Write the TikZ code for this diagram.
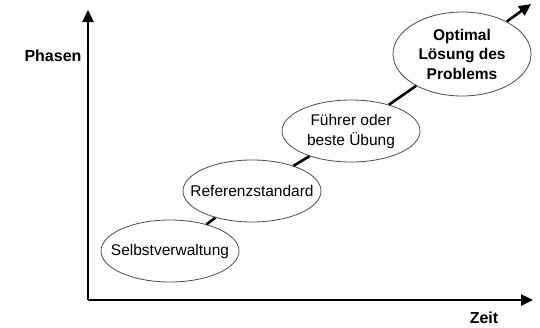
\documentclass[tikz,border=0pt]{standalone}
\usepackage{fontspec}
\setmainfont{Liberation Sans}
\usetikzlibrary{shapes.geometric,arrows.meta}
\begin{document}
\begin{tikzpicture}[x=1pt,y=-1pt,
  phase/.style={ellipse,draw=black!70,line width=0.8pt,fill=white,inner sep=0pt,
    minimum width=138pt,minimum height=62pt},
  txt/.style={inner sep=0pt,align=center,font=\fontsize{15.5}{20}\selectfont},
  btxt/.style={inner sep=0pt,align=center,font=\fontsize{15.5}{19.5}\selectfont\bfseries},
  axis/.style={line width=2.4pt,-{Triangle[length=12pt,width=11pt]}},
  link/.style={line width=2.6pt},
  lab/.style={font=\fontsize{16}{18}\selectfont\bfseries}]
\useasboundingbox (0,0) rectangle (540,327);
\coordinate (o) at (88,300);
\coordinate (ytop) at (88,10);
\coordinate (xend) at (533,300);
\draw[axis] (o) -- (ytop);
\draw[axis] (o) -- (xend);
\node[lab] (phasen) at (53,56) {Phasen};
\node[lab] (zeit) at (484,318) {Zeit};
\node[phase] (s) at (170,251) {};
\node[phase] (r) at (252,191) {};
\node[phase] (f) at (351,131) {};
\node[phase,minimum height=84pt] (p) at (462,54) {};
\node[txt] (st) at (s) {Selbstverwaltung};
\node[txt] (rt) at (r) {Referenzstandard};
\node[txt] (ft) at (f) {Führer oder\\beste Übung};
\node[btxt] (pt) at (p) {Optimal\\Lösung des\\Problems};
\coordinate (tip) at (531,4);
\draw[link] (s) -- (r);
\draw[link] (r) -- (f);
\draw[link] (f) -- (p);
\draw[link,-{Triangle[length=12pt,width=11pt]}] (p) -- (tip);
\end{tikzpicture}
\end{document}
